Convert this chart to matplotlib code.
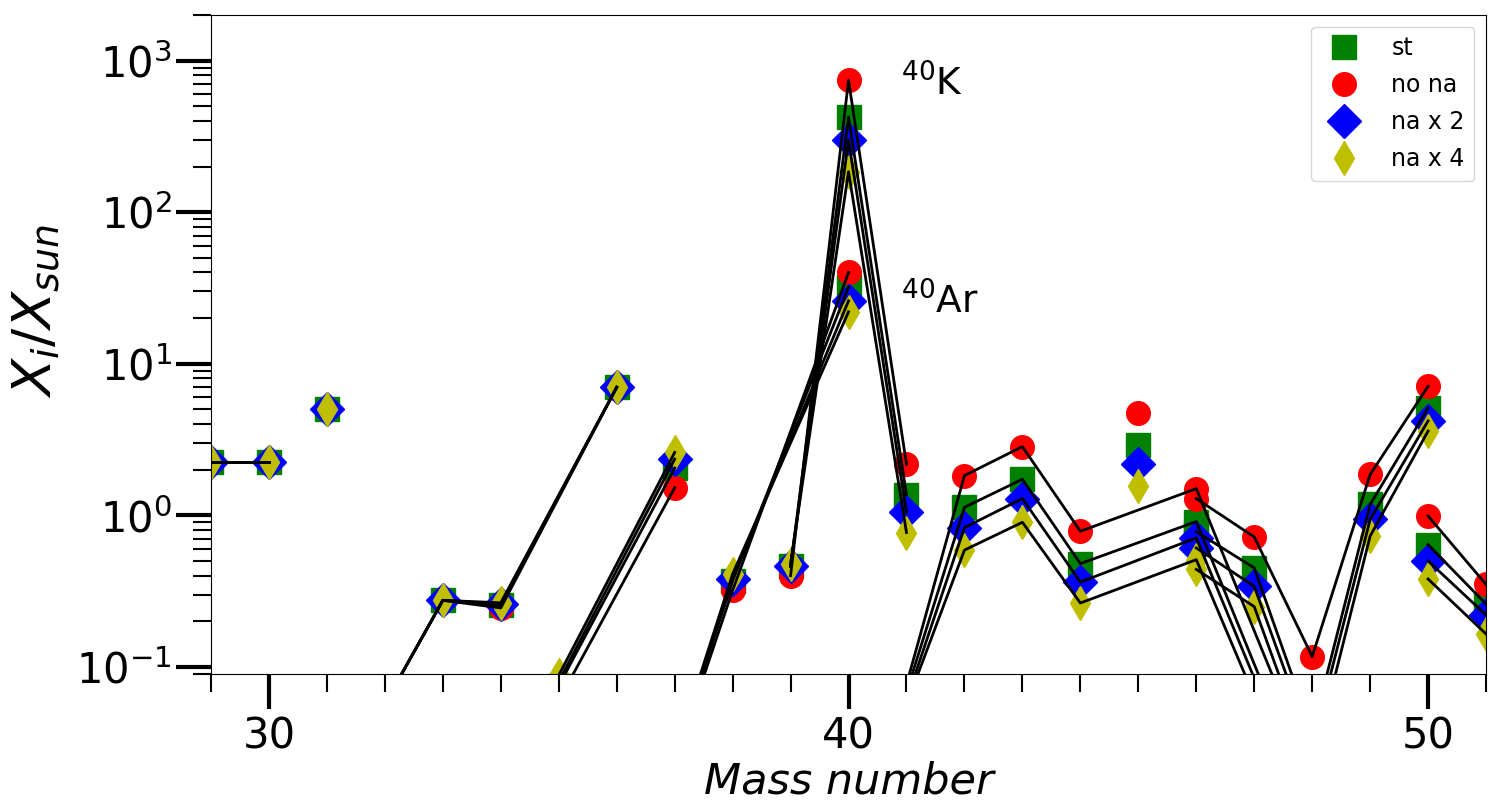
import numpy as np
import matplotlib
matplotlib.use('Agg')
import matplotlib.pyplot as plt
from matplotlib.ticker import MultipleLocator, LogLocator, NullFormatter

# model names and marker styles
models = ['st', 'no na', 'na x 2', 'na x 4']
colors = ['g', 'r', 'b', 'y']
markers = ['s', 'o', 'D', 'd']

# isotopic chains: mass numbers and X_i/X_sun for (st, no na, na x 2, na x 4)
si_mass = [29, 30]
si = [[2.25, 2.25], [2.25, 2.25], [2.25, 2.25], [2.25, 2.25]]

p_mass = [31]
p = [[5.0], [5.0], [5.0], [5.0]]

s_mass = [32, 33, 34, 36]
s = [[0.057, 0.275, 0.255, 7.0],
     [0.057, 0.275, 0.245, 7.0],
     [0.057, 0.275, 0.26, 7.0],
     [0.057, 0.275, 0.265, 7.0]]

cl_mass = [35, 37]
cl = [[0.075, 2.05], [0.06, 1.52], [0.08, 2.35], [0.088, 2.6]]

ar_mass = [36, 38, 40]
ar = [[0.0017, 0.37, 32.0],
      [0.0017, 0.32, 40.0],
      [0.0017, 0.38, 26.0],
      [0.0017, 0.41, 22.0]]

k_mass = [39, 40, 41]
k = [[0.46, 425.0, 1.37],
     [0.40, 740.0, 2.17],
     [0.46, 298.0, 1.05],
     [0.48, 185.0, 0.77]]

ca_mass = [40, 42, 43, 44, 46, 48]
ca = [[0.0041, 1.13, 1.73, 0.48, 0.91, 0.012],
      [0.0032, 1.83, 2.84, 0.785, 1.5, 0.02],
      [0.0044, 0.83, 1.29, 0.363, 0.71, 0.01],
      [0.0054, 0.59, 0.90, 0.264, 0.51, 0.008]]

sc_mass = [45]
sc = [[2.9], [4.7], [2.17], [1.57]]

ti_mass = [46, 47, 48, 49, 50]
ti = [[0.78, 0.45, 0.037, 1.18, 5.1],
      [1.29, 0.72, 0.117, 1.86, 7.1],
      [0.61, 0.34, 0.03, 0.94, 4.2],
      [0.44, 0.25, 0.022, 0.73, 3.6]]

v_mass = [50, 51]
v = [[0.64, 0.26], [0.99, 0.35], [0.50, 0.22], [0.38, 0.165]]

chains = [(si_mass, si), (p_mass, p), (s_mass, s), (cl_mass, cl),
          (ar_mass, ar), (k_mass, k), (ca_mass, ca), (sc_mass, sc),
          (ti_mass, ti), (v_mass, v)]

fig = plt.figure(figsize=(14.88, 8.08), dpi=100)
ax = fig.add_axes([0.1418, 0.166, 0.8569, 0.8155])

# markers, one series per model
for i in range(len(models)):
    xs = []
    ys = []
    for mass, vals in chains:
        xs += mass
        ys += vals[i]
    ax.plot(xs, ys, linestyle='none', marker=markers[i], color=colors[i],
            markersize=17, label=models[i])

# black lines joining isotopes of the same element
for mass, vals in chains:
    if len(mass) < 2:
        continue
    for i in range(len(models)):
        ax.plot(mass, vals[i], 'k-', lw=2)

ax.text(40.9, 590, r'$^{40}$K', fontsize=27, va='baseline')
ax.text(40.9, 21.5, r'$^{40}$Ar', fontsize=27, va='baseline')

ax.set_yscale('log')
ax.set_xlim(29, 51)
ax.set_ylim(0.09, 2000)

ax.xaxis.set_major_locator(MultipleLocator(10))
ax.xaxis.set_minor_locator(MultipleLocator(1))
ax.yaxis.set_major_locator(LogLocator(base=10, numticks=10))
ax.yaxis.set_minor_locator(LogLocator(base=10, subs=np.arange(2, 10), numticks=20))
ax.yaxis.set_minor_formatter(NullFormatter())

ax.tick_params(which='major', direction='out', length=25, width=3, labelsize=30)
ax.tick_params(which='minor', direction='out', length=13, width=1.5)
ax.tick_params(axis='x', which='major', pad=5)
ax.tick_params(axis='y', which='major', pad=3)

ax.set_xlabel('Mass number', fontsize=31, style='italic', labelpad=2)
ax.set_ylabel(r'$X_i/X_{sun}$', fontsize=39)
ax.yaxis.set_label_coords(-0.117, 0.55)

ax.legend(loc='upper right', fontsize=17, numpoints=1, labelspacing=0.55,
          handletextpad=1.0)

fig.savefig('out.png', dpi=100)
